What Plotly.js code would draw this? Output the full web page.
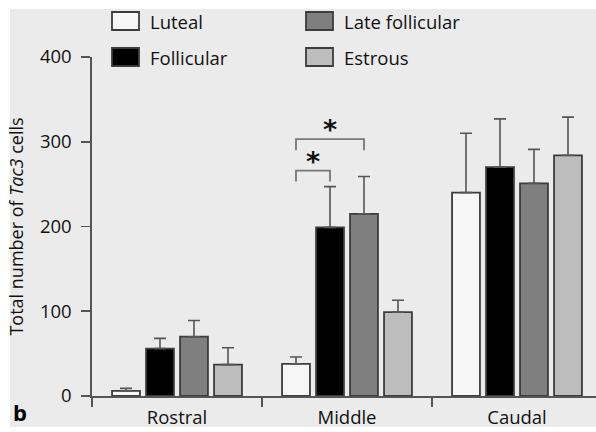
<!DOCTYPE html>
<html>
<head>
<meta charset="utf-8">
<script src="https://cdn.plot.ly/plotly-3.0.1.min.js"></script>
<style>html,body{margin:0;padding:0;background:#fff;}#chart{width:596px;height:432px;}</style>
</head>
<body>
<div id="chart"></div>
<script>
// ---- data ----
const regions = ["Rostral", "Middle", "Caudal"];
const phases = ["Luteal", "Follicular", "Late follicular", "Estrous"];
const luteal = [6, 38, 240];
const lutealErr = [3, 8, 70];
const follicular = [56, 199, 270];
const follicularErr = [12, 48, 57];
const lateFollicular = [70, 215, 251];
const lateFollicularErr = [19, 44, 40];
const estrous = [37, 99, 284];
const estrousErr = [20, 14, 45];
const yTicks = [0, 100, 200, 300, 400];
// significance comparisons: region index, from phase index, to phase index, bracket height
const sigGroup = [1, 1];
const sigFrom = [0, 0];
const sigTo = [1, 2];
const sigHeight = [266, 303];

// ---- styles ----
const fills = ["#f6f6f6", "#000000", "#7f7f7f", "#bdbdbd"];
const outline = "#3c3c3c";
const bg = "#ebebeb";
const font = "Open Sans, sans-serif";

const means = [luteal, follicular, lateFollicular, estrous];
const errs = [lutealErr, follicularErr, lateFollicularErr, estrousErr];
const xIdx = regions.map((_, i) => i);

const traces = phases.map((p, k) => ({
  type: "bar",
  name: p,
  x: xIdx,
  y: means[k],
  marker: {color: fills[k], line: {color: outline, width: 1.8}},
  error_y: {type: "data", symmetric: false, array: errs[k], arrayminus: means[k].map(() => 0),
            color: "#555555", thickness: 1.6, width: 6},
  showlegend: false
}));

// layout geometry
const L = 92, T = 57, B = 36, W = 596, H = 432;
const plotW = W - L, plotH = H - T - B;
const catPx = 170;
const xMax = -0.5 + plotW / catPx;
const px2paperX = px => (px - L) / plotW;
const py2paperY = py => (H - B - py) / plotH;

const shapes = [];
const annotations = [];
// background panel
shapes.push({type: "rect", xref: "paper", yref: "paper", layer: "below",
  x0: px2paperX(10), x1: px2paperX(600), y0: py2paperY(427), y1: py2paperY(9),
  fillcolor: bg, line: {width: 0}});

// legend drawn manually
const legX = [112, 112, 306, 306];
const legY = [12, 48, 12, 48];
phases.forEach((p, k) => {
  shapes.push({type: "rect", xref: "paper", yref: "paper",
    x0: px2paperX(legX[k]), x1: px2paperX(legX[k] + 27),
    y0: py2paperY(legY[k] + 18), y1: py2paperY(legY[k]),
    fillcolor: fills[k], line: {color: outline, width: 1.8}});
  annotations.push({xref: "paper", yref: "paper", x: px2paperX(legX[k] + 36), y: py2paperY(legY[k] + 9),
    xanchor: "left", yanchor: "middle", text: p, showarrow: false,
    font: {family: font, size: 18.5, color: "#111111"}});
});

// significance brackets
const barOffset = k => (k - 1.5) * 0.2;
sigGroup.forEach((g, i) => {
  const xa = g + barOffset(sigFrom[i]);
  const xb = g + barOffset(sigTo[i]);
  const yt = sigHeight[i];
  const leg = 13;
  shapes.push({type: "path", xref: "x", yref: "y",
    path: `M${xa},${yt - leg} L${xa},${yt} L${xb},${yt} L${xb},${yt - leg}`,
    line: {color: "#777777", width: 1.8}});
  annotations.push({xref: "x", yref: "y", x: (xa + xb) / 2, y: yt, yshift: -8,
    xanchor: "center", yanchor: "bottom", text: "<b>*</b>", showarrow: false,
    font: {family: "DejaVu Sans", size: 27, color: "#111"}});
});

// panel letter
annotations.push({xref: "paper", yref: "paper", x: px2paperX(11), y: py2paperY(412),
  xanchor: "left", yanchor: "middle", text: "<b>b</b>", showarrow: false,
  font: {family: font, size: 22, color: "#000"}});

const layout = {
  width: W, height: H,
  margin: {l: L, r: 0, t: T, b: B, pad: 0},
  paper_bgcolor: "#ffffff",
  plot_bgcolor: "rgba(0,0,0,0)",
  barmode: "group",
  bargap: 0.2,
  bargroupgap: 0.18,
  font: {family: font, size: 18, color: "#111111"},
  xaxis: {
    range: [-0.5, xMax], tickmode: "array", tickvals: xIdx, ticktext: regions,
    ticks: "", ticklen: 0, showgrid: false, zeroline: false,
    showline: true, linecolor: "#555555", linewidth: 1.6,
    ticklabelstandoff: 4,
    tickfont: {family: font, size: 18.5, color: "#111111"},
    minor: {tick0: -0.5, dtick: 1, ticks: "outside", ticklen: 9, tickcolor: "#555555", tickwidth: 1.6, showgrid: false}
  },
  yaxis: {
    range: [0, 400], tickmode: "array", tickvals: yTicks,
    ticks: "outside", ticklen: 9, tickcolor: "#555555", tickwidth: 1.6,
    showgrid: false, zeroline: false,
    showline: true, linecolor: "#555555", linewidth: 1.6,
    ticklabelstandoff: 6,
    tickfont: {family: font, size: 18.5, color: "#111111"},
    title: {text: "Total number of <i>Tac3</i> cells", standoff: 11,
            font: {family: font, size: 18, color: "#111111"}}
  },
  shapes: shapes,
  annotations: annotations
};

Plotly.newPlot("chart", traces, layout, {staticPlot: true, displayModeBar: false});
</script>
</body>
</html>
